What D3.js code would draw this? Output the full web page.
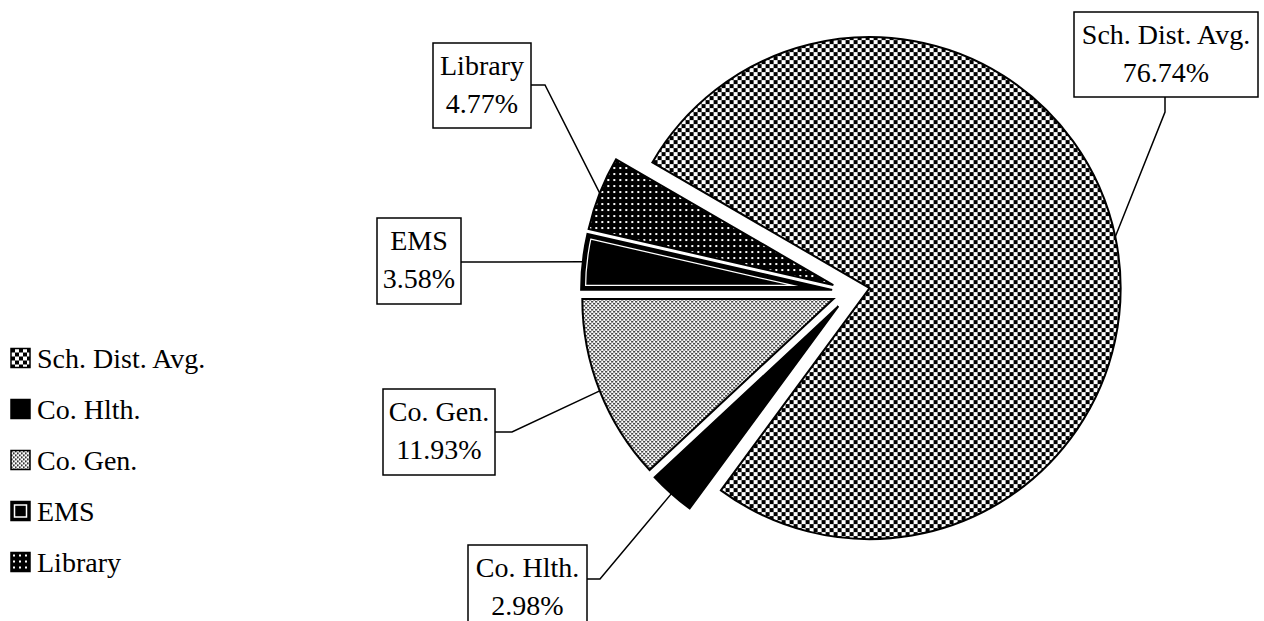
<!DOCTYPE html>
<html>
<head>
<meta charset="utf-8">
<script src="https://cdn.jsdelivr.net/npm/d3@7"></script>
<style>
  body { margin: 0; background: #fff; }
  svg { display: block; font-family: "Liberation Serif", "Times New Roman", serif; }
</style>
</head>
<body>
<svg></svg>
<script>
const categories = ["Sch. Dist. Avg.", "Co. Hlth.", "Co. Gen.", "EMS", "Library"];
const shares = [76.74, 2.98, 11.93, 3.58, 4.77];

const W = 1264, H = 621;
const cx = 851, cy = 292;
const radius = 251;
const explode = 19;
const fontSize = 28;

const svg = d3.select("svg").attr("width", W).attr("height", H);
const defs = svg.append("defs");

// fill patterns
const checker = defs.append("pattern").attr("id", "checker")
    .attr("patternUnits", "userSpaceOnUse").attr("width", 8).attr("height", 8);
checker.append("rect").attr("width", 8).attr("height", 8).attr("fill", "#fff");
checker.append("rect").attr("width", 4).attr("height", 4).attr("fill", "#000");
checker.append("rect").attr("x", 4).attr("y", 4).attr("width", 4).attr("height", 4).attr("fill", "#000");

const stipple = defs.append("pattern").attr("id", "stipple")
    .attr("patternUnits", "userSpaceOnUse").attr("width", 4).attr("height", 4);
stipple.append("rect").attr("width", 4).attr("height", 4).attr("fill", "#fff");
stipple.append("rect").attr("width", 1.6).attr("height", 1.6).attr("fill", "#000");
stipple.append("rect").attr("x", 2).attr("y", 2).attr("width", 1.6).attr("height", 1.6).attr("fill", "#000");

const dots = defs.append("pattern").attr("id", "dots")
    .attr("patternUnits", "userSpaceOnUse").attr("width", 6).attr("height", 6);
dots.append("rect").attr("width", 6).attr("height", 6).attr("fill", "#000");
dots.append("rect").attr("x", 2).attr("y", 2).attr("width", 2).attr("height", 2).attr("fill", "#fff");

const fills = {
  "Sch. Dist. Avg.": "url(#checker)",
  "Co. Hlth.": "#000",
  "Co. Gen.": "url(#stipple)",
  "EMS": "#000",
  "Library": "url(#dots)"
};

const data = categories.map((c, i) => ({ name: c, value: shares[i] }));
const total = d3.sum(shares);

// EMS starts at 9 o'clock, everything else follows clockwise from the big slice
const emsLib = (shares[3] + shares[4]) / total * 2 * Math.PI;
const start = 1.5 * Math.PI + emsLib - 2 * Math.PI;

const pie = d3.pie().sort(null).value(d => d.value)
    .startAngle(start).endAngle(start + 2 * Math.PI);
const arc = d3.arc().innerRadius(0).outerRadius(radius);

const arcs = pie(data);
const pieG = svg.append("g").attr("transform", `translate(${cx},${cy})`);

function offset(d) {
  const a = (d.startAngle + d.endAngle) / 2;
  return [Math.sin(a) * explode, -Math.cos(a) * explode];
}

const slices = pieG.selectAll(".slice")
  .data(arcs)
  .enter().append("g")
    .attr("class", "slice")
    .attr("transform", d => `translate(${offset(d)})`);

slices.each(function(d, i) {
  const g = d3.select(this);
  const path = arc(d);
  g.append("path").attr("d", path).attr("fill", fills[d.data.name]);
  if (d.data.name === "EMS") {
    // white inner rim of the EMS slice
    const clipId = "clip-ems";
    defs.append("clipPath").attr("id", clipId).append("path").attr("d", path)
        .attr("transform", `translate(${offset(d)})`);
    const inner = pieG.append("g").attr("clip-path", `url(#${clipId})`);
    inner.append("path").attr("d", path).attr("transform", `translate(${offset(d)})`)
        .attr("fill", "none").attr("stroke", "#fff").attr("stroke-width", 10);
    inner.append("path").attr("d", path).attr("transform", `translate(${offset(d)})`)
        .attr("fill", "none").attr("stroke", "#000").attr("stroke-width", 7.5);
  }
});

pieG.selectAll(".outline")
  .data(arcs)
  .enter().append("path")
    .attr("class", "outline")
    .attr("transform", d => `translate(${offset(d)})`)
    .attr("d", arc)
    .attr("fill", "none")
    .attr("stroke", "#000")
    .attr("stroke-width", 2)
    .attr("stroke-linejoin", "miter");

// data labels with leader lines
const labelLayout = {
  "Sch. Dist. Avg.": { x: 1074, y: 12, w: 184, h: 85, knee: [1165, 112], anchor: [1165, 97] },
  "Co. Hlth.":       { x: 468,  y: 545, w: 119, h: 85, knee: [600, 579], anchor: [587, 579] },
  "Co. Gen.":        { x: 383,  y: 389, w: 112, h: 86, knee: [512, 432], anchor: [495, 432] },
  "EMS":             { x: 377,  y: 218, w: 84,  h: 86, knee: null,       anchor: [461, 262] },
  "Library":         { x: 433,  y: 43,  w: 98,  h: 85, knee: [545, 85],  anchor: [531, 85] }
};

const fmt = d3.format(".2f");
const labels = svg.append("g");

arcs.forEach(d => {
  const L = labelLayout[d.data.name];
  const a = (d.startAngle + d.endAngle) / 2;
  const o = offset(d);
  const edge = [cx + o[0] + Math.sin(a) * radius, cy + o[1] - Math.cos(a) * radius];
  const pts = [edge];
  if (L.knee) pts.push(L.knee);
  pts.push(L.anchor);

  labels.append("path")
      .attr("d", d3.line()(pts))
      .attr("fill", "none")
      .attr("stroke", "#000")
      .attr("stroke-width", 1.5);

  labels.append("rect")
      .attr("x", L.x).attr("y", L.y)
      .attr("width", L.w).attr("height", L.h)
      .attr("fill", "#fff")
      .attr("stroke", "#000")
      .attr("stroke-width", 1.5);

  const t = labels.append("text")
      .attr("text-anchor", "middle")
      .attr("font-size", fontSize)
      .attr("fill", "#000");
  t.append("tspan").attr("x", L.x + L.w / 2).attr("y", L.y + 22).attr("dy", "0.35em").text(d.data.name);
  t.append("tspan").attr("x", L.x + L.w / 2).attr("y", L.y + 60).attr("dy", "0.35em").text(fmt(d.data.value) + "%");
});

// legend
const legendY = d3.scalePoint().domain(categories).range([358, 562]);
const legend = svg.append("g");
const box = 19;

categories.forEach(c => {
  const y = legendY(c);
  const g = legend.append("g").attr("transform", `translate(11,${y - box / 2})`);
  g.append("rect").attr("width", box).attr("height", box)
      .attr("fill", fills[c]).attr("stroke", "#000").attr("stroke-width", 1.5);
  if (c === "EMS") {
    g.append("rect").attr("x", 3.5).attr("y", 3.5).attr("width", box - 7).attr("height", box - 7)
        .attr("fill", "none").attr("stroke", "#fff").attr("stroke-width", 1.5);
  }
  legend.append("text")
      .attr("x", 37).attr("y", y)
      .attr("dy", "0.35em")
      .attr("font-size", fontSize)
      .text(c);
});
</script>
</body>
</html>
